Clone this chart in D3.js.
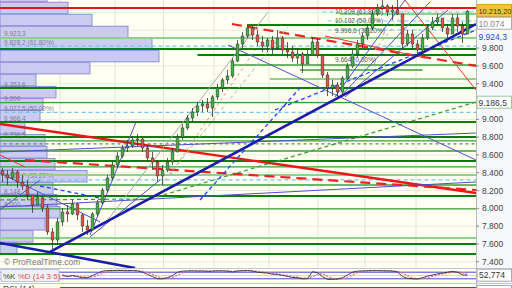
<!DOCTYPE html>
<html>
<head>
<meta charset="utf-8">
<script src="https://cdnjs.cloudflare.com/ajax/libs/d3/7.8.5/d3.min.js"></script>
<style>
body { margin: 0; background: #fff; }
svg { display: block; font-family: "Liberation Sans", "DejaVu Sans", sans-serif; }
</style>
</head>
<body>
<svg id="chart" width="512" height="288"></svg>
<script>
// ---- data (prices) ----
var firstOpen = 8420;
var closes = [
  8375, 8341, 8408, 8296, 8251, 8150, 8038, 8117, 8004, 7735,
  7645, 7847, 7959, 7937, 8049, 7926, 7802, 7757, 7937, 8060,
  8206, 8341, 8487, 8588, 8678, 8700, 8768, 8779, 8678, 8566,
  8521, 8364, 8431, 8521, 8633, 8801, 8903, 9015, 9082, 9150,
  9172, 9127, 9251, 9352, 9442, 9487, 9655, 9846, 9936, 10026,
  9947, 9868, 9823, 9891, 9801, 9913, 9779, 9756, 9689, 9734,
  9621, 9722, 9868, 9722, 9498, 9352, 9385, 9307, 9464, 9599,
  9734, 9846, 9936, 10026, 10183, 10250, 10273, 10205, 10228, 10183,
  9846, 9958, 9846, 9779, 9913, 10026, 10093, 10138, 10026, 9958,
  10138, 10048, 9958, 10215
];
var highs = [
  8453, 8431, 8453, 8431, 8375, 8319, 8150, 8184, 8139, 8038,
  7780, 7892, 8004, 8038, 8094, 8060, 7948, 7869, 7959, 8094,
  8229, 8375, 8521, 8633, 8712, 8768, 8813, 8835, 8790, 8712,
  8633, 8543, 8487, 8566, 8678, 8835, 8947, 9049, 9127, 9195,
  9217, 9239, 9273, 9397, 9464, 9554, 9689, 9891, 9981, 10070,
  10048, 10003, 9936, 9913, 9936, 10003, 9936, 9868, 9823, 9801,
  9756, 9779, 9913, 9913, 9734, 9531, 9442, 9419, 9487, 9633,
  9779, 9891, 9969, 10070, 10228, 10295, 10340, 10295, 10284, 10362,
  10183, 10003, 10003, 9891, 9958, 10070, 10149, 10183, 10138, 10070,
  10183, 10183, 10093, 10228
];
var lows = [
  8296, 8262, 8319, 8229, 8206, 8094, 7948, 8038, 7959, 7701,
  7532, 7600, 7802, 7847, 7926, 7869, 7735, 7701, 7757, 7914,
  8038, 8184, 8319, 8453, 8566, 8633, 8678, 8700, 8633, 8521,
  8431, 8296, 8262, 8408, 8487, 8633, 8768, 8880, 8970, 9037,
  9082, 9082, 9026, 9217, 9307, 9397, 9464, 9644, 9801, 9913,
  9891, 9823, 9756, 9756, 9734, 9779, 9734, 9689, 9644, 9621,
  9520, 9621, 9734, 9689, 9464, 9262, 9262, 9239, 9262, 9442,
  9576, 9700, 9801, 9891, 10003, 10160, 10228, 10160, 10115, 10172,
  9779, 9823, 9779, 9700, 9756, 9891, 10003, 10048, 9981, 9891,
  10026, 9981, 9857, 9958
];

// stochastic %K / %D (14 3 5)
var stochK = [
  null, null, null, null, null, null, null, null, null, null,
  null, null, 50, 40, 50, 40, 30, 30, 50, 70,
  90, 95, 95, 97, 95, 93, 95, 92, 80, 60,
  40, 20, 20, 30, 50, 80, 90, 92, 93, 90,
  92, 88, 90, 93, 92, 90, 82, 92, 94, 95,
  90, 80, 75, 72, 62, 60, 50, 42, 32, 30,
  20, 22, 85, 75, 40, 15, 15, 18, 30, 55,
  80, 90, 92, 93, 95, 94, 93, 92, 90, 82,
  40, 25, 20, 18, 30, 45, 55, 65, 72, 80,
  88, 80, 55, 52.774
];
var stochD = [
  null, null, null, null, null, null, null, null, null, null,
  null, null, 55, 47, 45, 45, 40, 33, 37, 50,
  70, 85, 93, 95, 96, 95, 94, 93, 89, 77,
  60, 40, 27, 23, 33, 53, 73, 87, 92, 92,
  91, 90, 90, 90, 91, 92, 88, 88, 89, 94,
  93, 88, 82, 76, 70, 65, 57, 51, 41, 35,
  27, 24, 42, 61, 67, 43, 23, 16, 21, 34,
  55, 75, 87, 92, 93, 94, 94, 93, 92, 88,
  71, 49, 28, 21, 23, 31, 43, 55, 64, 72,
  80, 83, 74, 62
];
var stochLevels = [80, 20];
var rsiLast = 46.214;

// volume profile, bins of 135 points from the top
var profileTop = 10450, profileStep = 135;
var profileVol = [47, 68, 92, 128, 152, 159, 90, 36, 56, 43, 40, 25, 45, 47, 55, 87, 53, 57, 60, 45, 33, 17];

// horizontal levels: price, kind, from bar, to bar
var hLevels = [
  [10250, "red", -1, 95], [10205, "fib", 64, 95], [10183, "light", 67.5, 95],
  [10104, "fib", 65, 95], [10059, "dark", 49, 95], [10003, "fib", 65, 95],
  [9913, "light", -1, 95], [9823, "fib", -1, 95], [9790, "dark", -1, 95],
  [9722, "dark", 39, 95], [9610, "mid", 46.3, 95], [9554, "mid", 59.5, 84],
  [9453, "light", 53.5, 95], [9352, "dark", -1, 95], [9186.5, "mid", -1, 95],
  [9077.5, "fib", -1, 95], [8970, "dark", -1, 95], [8801, "dark", -1, 95],
  [8757, "mid", -1, 95], [8723, "gdash", -1, 95], [8644, "mid", -1, 95],
  [8532, "dark", -1, 95], [8465, "mid", -1, 95], [8375, "light", -1, 95],
  [8319, "fib", -1, 95], [8262, "mid", -1, 95], [8139, "dark", -1, 95],
  [7993, "mid", -1, 95], [7667, "light", -1, 95], [7600, "dark", -1, 95],
  [7488, "dark", -1, 95]
];

// trend lines: bar1, price1, bar2, price2, kind
var trendLines = [
  [-0.5, 8947, 94.7, 8173, "redThick"],
  [4.5, 8543, 94.7, 8206, "redDash"],
  [45.9, 10070, 94.7, 9599, "redDash"],
  [80.5, 10340, 94.7, 9329, "redThin"],
  [64.5, 9936, 84.5, 9689, "redThin"],
  [-0.5, 8599, 4.5, 8465, "redThin"],
  [-0.5, 8094, 29.5, 8105, "greenDash"],
  [29.5, 8105, 94.7, 9195, "greenDash"],
  [19.5, 7757, 53.1, 10205, "gray"],
  [31.5, 8250, 57.1, 10037, "grayDash"],
  [33.5, 8375, 50.5, 9778, "pinkDash"],
  [74.5, 9778, 81.5, 10284, "pinkDash"],
  [-0.5, 8633, 94.7, 8846, "blue"],
  [-0.5, 8015, 94.7, 8296, "blue"],
  [45.1, 9835, 94.7, 8543, "blue"],
  [-0.5, 8397, 19.5, 7847, "blue"],
  [-0.5, 7982, 7.5, 8319, "blue"],
  [17.5, 7701, 26.7, 8970, "blue"],
  [17.5, 7679, 31.5, 8319, "blue"],
  [66.5, 9251, 80.5, 10340, "blue"],
  [67.5, 9251, 85.5, 10318, "blue"],
  [68.5, 9251, 89.1, 10228, "blue"],
  [39.5, 8094, 59.5, 9352, "blueDash"],
  [54.5, 9105, 94.7, 10003, "blueDash"],
  [7.5, 8251, 19.5, 8116, "blueDash"],
  [9.5, 7510, 94.7, 10070, "blueThick"],
  [-0.5, 7611, 26.5, 7330, "blueThick"]
];

var yTicks = [7400, 7600, 7800, 8000, 8200, 8400, 8600, 8800, 9000, 9400, 9600, 9800];
var gridBars = [11.5, 22.5, 32.2, 42.3, 53.3, 63.1, 72.5, 82.7];

var profileLabels = [
  [9923.3, "9.923,3"], [9828.2, "9.828,2 (61,80%)"], [9353.6, "9.353,6"],
  [9200, "9.200"], [9077.5, "9.077,5 (50,00%)"], [8966.4, "8.966,4"],
  [8790.5, "8.790,5"], [8326.7, "8.326,7 (38,20%)"], [8148, "8.148"], [8000, "8.000"]
];
var fibLabels = [
  [10209, "10.209 (61,80%)"], [10102, "10.102 (50,00%)"],
  [9996.6, "9.996,6 (38,20%)"], [9664, "9.664 (0,00%)"]
];

// right-hand value badges
var badges = [
  [10215.2, ",.2f", "orange"], [10074, ",.0f", "gray"],
  [9924.3, ",.1f", "blue"], [9186.5, ",.1f", "green"]
];

// ---- drawing ----
var plotW = 476, plotH = 268;
var locale = d3.formatLocale({decimal: ",", thousands: ".", grouping: [3], currency: ["", ""]});

var svg = d3.select("#chart");
var x = d3.scaleLinear().domain([-0.5, 94.7]).range([0, plotW]);
var y = d3.scaleLinear().domain([7330, 10340]).range([plotH, 0]);
var ys = d3.scaleLinear().domain([0, 100]).range([281, 270]);
var vol = d3.scaleLinear().domain([0, 160]).range([0, 160]);

svg.append("defs").append("clipPath").attr("id", "clipMain")
    .append("rect").attr("width", plotW).attr("height", plotH);

svg.append("rect").attr("width", 512).attr("height", 288).attr("fill", "#fffff2");
svg.append("rect").attr("x", plotW).attr("width", 512 - plotW).attr("height", 288).attr("fill", "#f6f8fb");

var g = svg.append("g").attr("clip-path", "url(#clipMain)");

// grid
g.selectAll("line.gx").data(gridBars).join("line")
    .attr("x1", d => x(d)).attr("x2", d => x(d))
    .attr("y1", 0).attr("y2", plotH)
    .attr("stroke", "#e4e4d4").attr("stroke-width", 1);
g.selectAll("line.gy").data(d3.range(7400, 10400, 200)).join("line")
    .attr("x1", 0).attr("x2", plotW)
    .attr("y1", d => y(d)).attr("y2", d => y(d))
    .attr("stroke", "#ececdc").attr("stroke-width", 1);

// volume profile
g.selectAll("rect.vp").data(profileVol).join("rect")
    .attr("x", 0)
    .attr("y", (d, k) => y(profileTop - k * profileStep))
    .attr("width", d => vol(d))
    .attr("height", (d, k) => y(profileTop - (k + 1) * profileStep) - y(profileTop - k * profileStep) - 0.5)
    .attr("fill", "#cbcbf2").attr("stroke", "#8e8ed8").attr("stroke-width", 1);

g.selectAll("text.vpl").data(profileLabels).join("text")
    .attr("x", 4).attr("y", d => y(d[0]) - 1)
    .attr("font-size", 6.5).attr("fill", "#6a6a80").attr("fill-opacity", 0.85)
    .text(d => d[1]);

var styles = {
  red: {c: "#e8141c", w: 2}, fib: {c: "#6cc8ee", w: 1.2, d: "4,3"},
  light: {c: "#8fd08f", w: 2}, dark: {c: "#0a800a", w: 2},
  mid: {c: "#3a9e3a", w: 1.3}, gdash: {c: "#3a9e3a", w: 1.3, d: "3,3"},
  redThick: {c: "#ee1515", w: 2.4}, redDash: {c: "#ee2222", w: 2.2, d: "10,6"},
  redThin: {c: "#ee3333", w: 1}, greenDash: {c: "#3a9a3a", w: 1.2, d: "4,3"},
  gray: {c: "#a8a8a8", w: 1}, grayDash: {c: "#b0b0b0", w: 1, d: "4,3"},
  pinkDash: {c: "#f08c8c", w: 1, d: "3,3"}, blue: {c: "#5050c8", w: 1},
  blueDash: {c: "#2244ee", w: 1.3, d: "4,3"}, blueThick: {c: "#1c1caa", w: 2.6}
};

g.selectAll("line.hl").data(hLevels).join("line")
    .attr("x1", d => x(d[2])).attr("x2", d => x(d[3]))
    .attr("y1", d => y(d[0])).attr("y2", d => y(d[0]))
    .attr("stroke", d => styles[d[1]].c)
    .attr("stroke-width", d => styles[d[1]].w)
    .attr("stroke-dasharray", d => styles[d[1]].d || null);

g.selectAll("line.tl").data(trendLines).join("line")
    .attr("x1", d => x(d[0])).attr("y1", d => y(d[1]))
    .attr("x2", d => x(d[2])).attr("y2", d => y(d[3]))
    .attr("stroke", d => styles[d[4]].c)
    .attr("stroke-width", d => styles[d[4]].w)
    .attr("stroke-dasharray", d => styles[d[4]].d || null);

g.selectAll("text.fl").data(fibLabels).join("text")
    .attr("x", x(66.5)).attr("y", d => y(d[0]) + 2)
    .attr("font-size", 6.5).attr("fill", "#555")
    .text(d => d[1]);

// candles
var bars = closes.map(function (c, i) {
  var o = i ? closes[i - 1] : firstOpen;
  return {i: i, o: o, c: c, h: Math.max(highs[i], o, c), l: Math.min(lows[i], o, c)};
});
g.selectAll("line.wick").data(bars).join("line")
    .attr("x1", d => x(d.i)).attr("x2", d => x(d.i))
    .attr("y1", d => y(d.h)).attr("y2", d => y(d.l))
    .attr("stroke", "#333").attr("stroke-width", 0.8);
g.selectAll("rect.body").data(bars).join("rect")
    .attr("x", d => x(d.i) - 1.4).attr("width", 2.8)
    .attr("y", d => y(Math.max(d.o, d.c)))
    .attr("height", d => Math.max(1, Math.abs(y(d.o) - y(d.c))))
    .attr("fill", d => d.c >= d.o ? "#46b046" : "#e4504a")
    .attr("stroke", "#333").attr("stroke-width", 0.5);

svg.append("text").attr("x", 4).attr("y", 265).attr("font-size", 8.5).attr("fill", "#7a7a7a")
    .text("\u00a9 ProRealTime.com");

// right axis
svg.append("line").attr("x1", plotW + 0.5).attr("x2", plotW + 0.5).attr("y1", 0).attr("y2", 288)
    .attr("stroke", "#b8b8b8");
var fmt0 = locale.format(",.0f");
var ax = svg.append("g");
ax.selectAll("line").data(yTicks).join("line")
    .attr("x1", plotW).attr("x2", plotW + 3)
    .attr("y1", d => y(d)).attr("y2", d => y(d)).attr("stroke", "#888");
ax.selectAll("text").data(yTicks).join("text")
    .attr("x", plotW + 6).attr("y", d => y(d) + 3)
    .attr("font-size", 8.5).attr("fill", "#444").text(d => fmt0(d));

var bg = svg.selectAll("g.badge").data(badges).join("g")
    .attr("transform", d => "translate(" + (plotW + 1) + "," + y(d[0]) + ")");
bg.filter(d => d[2] != "blue").append("rect")
    .attr("x", 0).attr("y", -6.5).attr("width", 34.5).attr("height", 12)
    .attr("fill", d => d[2] == "orange" ? "#f5c240" : "#ffffff")
    .attr("stroke", d => d[2] == "orange" ? "#d9a020" : (d[2] == "green" ? "#9ac89a" : "#aaaaaa"));
bg.append("text").attr("x", 1.5).attr("y", 3)
    .attr("font-size", d => d[2] == "orange" ? 7.4 : 8.5)
    .attr("fill", d => d[2] == "blue" ? "#1a4fd8" : (d[2] == "gray" ? "#888" : "#333"))
    .text(d => locale.format(d[1])(d[0]));

// stochastic panel
svg.append("line").attr("x1", 0).attr("x2", 512).attr("y1", 268.5).attr("y2", 268.5).attr("stroke", "#bcc8d8");
svg.append("line").attr("x1", 0).attr("x2", plotW).attr("y1", ys(50)).attr("y2", ys(50)).attr("stroke", "#d8d8d0");
svg.selectAll("line.sl").data(stochLevels).join("line")
    .attr("x1", 0).attr("x2", plotW).attr("y1", d => ys(d)).attr("y2", d => ys(d))
    .attr("stroke", "#4848d0").attr("stroke-width", 1);
var kLine = d3.line().defined(d => d != null).x((d, i) => x(i)).y(d => ys(d));
svg.append("path").attr("d", kLine(stochD)).attr("fill", "none")
    .attr("stroke", "#f07070").attr("stroke-width", 1.3).attr("stroke-dasharray", "2,1.5");
svg.append("path").attr("d", kLine(stochK)).attr("fill", "none")
    .attr("stroke", "#333").attr("stroke-width", 0.9);

svg.append("rect").attr("x", 1).attr("y", 269.5).attr("width", 58).attr("height", 12)
    .attr("fill", "#eef0f6").attr("stroke", "#c0c4d8");
var lab = svg.append("text").attr("x", 3).attr("y", 278.5).attr("font-size", 8);
lab.append("tspan").attr("fill", "#444").text("%K ");
lab.append("tspan").attr("fill", "#e05050").text("%D (14 3 5)");

var sb = svg.append("g").attr("transform", "translate(" + (plotW + 1) + "," + ys(stochK[stochK.length - 1]) + ")");
sb.append("rect").attr("y", -6).attr("width", 34.5).attr("height", 12).attr("fill", "#fff").attr("stroke", "#aaa");
sb.append("text").attr("x", 2).attr("y", 3).attr("font-size", 8.5).attr("fill", "#333")
    .text(locale.format(",.3f")(stochK[stochK.length - 1]));

// RSI panel (cut off at the bottom)
svg.append("line").attr("x1", 0).attr("x2", 512).attr("y1", 283.5).attr("y2", 283.5).attr("stroke", "#bcc8d8");
svg.append("line").attr("x1", 60).attr("x2", plotW).attr("y1", 287.5).attr("y2", 287.5).attr("stroke", "#4848d0");
svg.append("text").attr("x", 3).attr("y", 292).attr("font-size", 8.5).attr("fill", "#444").text("RSI (14)");
svg.append("rect").attr("x", plotW + 1).attr("y", 285.5).attr("width", 34.5).attr("height", 12)
    .attr("fill", "#fff").attr("stroke", "#aaa");
svg.append("text").attr("x", plotW + 3).attr("y", 294).attr("font-size", 8.5).attr("fill", "#333")
    .text(locale.format(",.3f")(rsiLast));
</script>
</body>
</html>
